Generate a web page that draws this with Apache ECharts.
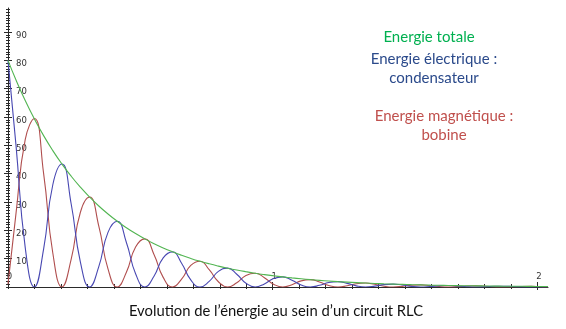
<!DOCTYPE html>
<html>
<head>
<meta charset="utf-8">
<script src="https://cdn.jsdelivr.net/npm/echarts@6/dist/echarts.min.js"></script>
<style>
html,body{margin:0;padding:0;background:#fff;}
#chart{width:566px;height:329px;}
</style>
</head>
<body>
<div id="chart"></div>
<script>
// Time (x) values
const times = [0, 0.03025, 0.065, 0.09975, 0.1345, 0.16925, 0.204, 0.23875, 0.2735, 0.30825,
  0.343, 0.37775, 0.4125, 0.44725, 0.482, 0.51675, 0.5515, 0.58625, 0.621, 0.65575,
  0.6905, 0.72525, 0.76, 0.79475, 0.8295, 0.86425, 0.899, 0.93375, 0.9685, 1.00325,
  1.038, 1.07275, 1.1075, 1.14225, 1.177, 1.21175, 1.2465, 1.28125, 1.316, 1.35075,
  1.3855, 1.42025, 1.455, 1.48975, 1.5245, 1.55925, 1.594, 1.62875, 1.6635, 1.69825,
  1.733, 1.76775, 1.8025, 1.83725, 1.872, 1.90675, 1.9415, 1.97625, 2.011, 2.04];

// Energie totale (green)
const energieTotale = [80, 73.06, 65.83, 59.32, 53.45, 48.16, 43.39, 39.10, 35.23, 31.75,
  28.60, 25.77, 23.22, 20.93, 18.86, 16.99, 15.31, 13.79, 12.43, 11.20,
  10.09, 9.09, 8.19, 7.38, 6.65, 5.99, 5.40, 4.86, 4.38, 3.95,
  3.56, 3.21, 2.89, 2.60, 2.35, 2.11, 1.90, 1.72, 1.55, 1.39,
  1.26, 1.13, 1.02, 0.92, 0.83, 0.75, 0.67, 0.61, 0.55, 0.49,
  0.44, 0.40, 0.36, 0.32, 0.29, 0.26, 0.24, 0.21, 0.19, 0.18];

// Energie électrique : condensateur (blue)
const energieElectrique = [80, 50, 14, 0, 13.4, 36.1, 43.4, 29.3, 8.8, 0,
  7.2, 19.3, 23.2, 15.7, 4.7, 0, 3.8, 10.3, 12.4, 8.4,
  2.5, 0, 2.0, 5.5, 6.65, 4.5, 1.35, 0, 1.1, 3.0,
  3.56, 2.4, 0.72, 0, 0.59, 1.58, 1.90, 1.29, 0.39, 0,
  0.32, 0.85, 1.02, 0.69, 0.21, 0, 0.17, 0.46, 0.55, 0.37,
  0.11, 0, 0.09, 0.24, 0.29, 0.2, 0.06, 0, 0.05, 0.14];

// Energie magnétique : bobine (red)
const energieMagnetique = [1, 26, 52, 59.5, 40.1, 12.0, 0, 9.8, 26.4, 31.75,
  21.5, 6.4, 0, 5.2, 14.1, 17.0, 11.5, 3.4, 0, 2.8,
  7.6, 9.1, 6.1, 1.85, 0, 1.5, 4.05, 4.86, 3.3, 0.99,
  0, 0.8, 2.17, 2.60, 1.76, 0.53, 0, 0.43, 1.16, 1.39,
  0.95, 0.28, 0, 0.23, 0.62, 0.75, 0.5, 0.15, 0, 0.12,
  0.33, 0.40, 0.27, 0.08, 0, 0.07, 0.18, 0.21, 0.14, 0.05];

// Tick labels
const xTickLabels = [0, 1, 2];
const yTickLabels = [10, 20, 30, 40, 50, 60, 70, 80, 90];

// Tick positions (axis furniture)
const xMinorTicks = [];
for (let i = 0; i <= 20; i++) xMinorTicks.push(+(i * 0.1).toFixed(1));
const xMajorTicks = [1, 2];
const yMinorTicks = [];
for (let i = 0; i <= 98; i++) yMinorTicks.push(i);
const yMajorTicks = [10, 20, 30, 40, 50, 60, 70, 80, 90];

const X_MAX = 2.04, Y_MAX = 98.5;
const axisColor = '#2a2a2a';
const textFont = '15px Lato';

function xAx(extra) {
  return Object.assign({
    type: 'value', min: 0, max: X_MAX, position: 'bottom', gridIndex: 0,
    axisLine: {show: false, onZero: false},
    axisLabel: {show: false},
    splitLine: {show: false}
  }, extra);
}
function yAx(extra) {
  return Object.assign({
    type: 'value', min: 0, max: Y_MAX, position: 'left', gridIndex: 0,
    axisLine: {show: false, onZero: false},
    axisLabel: {show: false},
    splitLine: {show: false}
  }, extra);
}

const chart = echarts.init(document.getElementById('chart'), null, {renderer: 'canvas'});
const pair = (arr) => times.map((t, i) => [t, arr[i]]);

chart.setOption({
  animation: false,
  backgroundColor: '#ffffff',
  grid: {left: 8, right: 18, top: 8, bottom: 42, containLabel: false},
  xAxis: [
    xAx({
      axisLine: {show: true, onZero: false, lineStyle: {color: axisColor, width: 1}},
      axisTick: {show: true, customValues: xMinorTicks, inside: false, length: 2, lineStyle: {color: axisColor}},
      axisLabel: {show: true, customValues: xTickLabels, inside: true, margin: 6,
        fontFamily: 'DejaVu Sans', fontSize: 8.5, color: '#333', padding: [0, 0, 0, 3]}
    }),
    xAx({axisTick: {show: true, customValues: xMinorTicks, inside: true, length: 3, lineStyle: {color: axisColor}}}),
    xAx({axisTick: {show: true, customValues: xMajorTicks, inside: true, length: 5, lineStyle: {color: axisColor}}}),
    xAx({axisTick: {show: true, customValues: xMajorTicks, inside: false, length: 3, lineStyle: {color: axisColor}}})
  ],
  yAxis: [
    yAx({
      axisLine: {show: true, onZero: false, lineStyle: {color: axisColor, width: 1}},
      axisTick: {show: true, customValues: yMinorTicks, inside: false, length: 2, lineStyle: {color: axisColor}},
      axisLabel: {show: true, customValues: yTickLabels, inside: true, margin: 8,
        fontFamily: 'DejaVu Sans', fontSize: 8.5, color: '#333', verticalAlign: 'top', lineHeight: 7}
    }),
    yAx({axisTick: {show: true, customValues: yMinorTicks, inside: true, length: 2, lineStyle: {color: axisColor}}}),
    yAx({axisTick: {show: true, customValues: yMajorTicks, inside: true, length: 4, lineStyle: {color: axisColor}}}),
    yAx({axisTick: {show: true, customValues: yMajorTicks, inside: false, length: 4, lineStyle: {color: axisColor}}})
  ],
  series: [
    {name: 'Energie magnétique : bobine', type: 'line', xAxisIndex: 0, yAxisIndex: 0,
      data: pair(energieMagnetique), smooth: 0.5, showSymbol: false,
      lineStyle: {color: '#b04e4e', width: 1.1}, itemStyle: {color: '#b04e4e'}, z: 2},
    {name: 'Energie électrique : condensateur', type: 'line', xAxisIndex: 0, yAxisIndex: 0,
      data: pair(energieElectrique), smooth: 0.5, showSymbol: false,
      lineStyle: {color: '#4848b2', width: 1.1}, itemStyle: {color: '#4848b2'}, z: 3},
    {name: 'Energie totale', type: 'line', xAxisIndex: 0, yAxisIndex: 0,
      data: pair(energieTotale), smooth: 0.5, showSymbol: false,
      lineStyle: {color: '#52b552', width: 1.1}, itemStyle: {color: '#52b552'}, z: 4}
  ],
  graphic: [
    {type: 'text', x: 429, y: 37, style: {text: 'Energie totale', fill: '#00b050',
      font: textFont, textAlign: 'center', textVerticalAlign: 'middle'}},
    {type: 'text', x: 434, y: 59, style: {text: 'Energie électrique :', fill: '#2b4a8b',
      font: textFont, textAlign: 'center', textVerticalAlign: 'middle'}},
    {type: 'text', x: 434, y: 78, style: {text: 'condensateur', fill: '#2b4a8b',
      font: textFont, textAlign: 'center', textVerticalAlign: 'middle'}},
    {type: 'text', x: 444, y: 116, style: {text: 'Energie magnétique :', fill: '#c0504d',
      font: textFont, textAlign: 'center', textVerticalAlign: 'middle'}},
    {type: 'text', x: 444, y: 135, style: {text: 'bobine', fill: '#c0504d',
      font: textFont, textAlign: 'center', textVerticalAlign: 'middle'}},
    {type: 'text', x: 276, y: 311, style: {text: 'Evolution de l\u2019énergie au sein d\u2019un circuit RLC', fill: '#111',
      font: '14.8px Lato', textAlign: 'center', textVerticalAlign: 'middle'}}
  ]
});
</script>
</body>
</html>
